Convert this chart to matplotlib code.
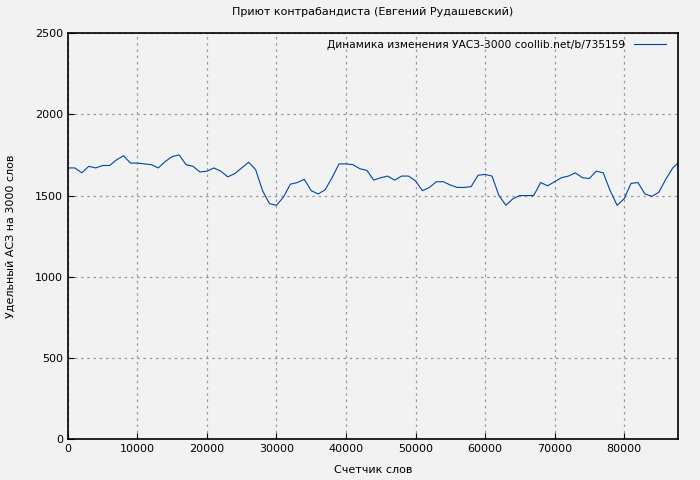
import matplotlib
matplotlib.use("Agg")
import matplotlib.pyplot as plt

words = list(range(0, 89000, 1000))
values = [1670,1670,1640,1680,1670,1685,1685,1720,1745,1700,1700,1695,1690,1670,1710,1740,1750,1690,1680,1645,
          1650,1670,1650,1615,1635,1670,1705,1660,1530,1450,1440,1490,1570,1580,1600,1530,1510,1535,1610,1695,
          1695,1690,1665,1655,1595,1610,1620,1595,1620,1620,1590,1530,1550,1585,1585,1565,1550,1550,1555,1625,
          1630,1620,1500,1440,1480,1500,1500,1500,1580,1560,1585,1610,1620,1640,1610,1605,1650,1640,1530,1440,
          1480,1575,1580,1510,1495,1520,1600,1670,1710]

fig = plt.figure(figsize=(7, 4.8), dpi=100, facecolor="#f2f2f2")
ax = fig.add_axes([0.097, 0.085, 0.872, 0.846], facecolor="#f2f2f2")
ax.plot(words, values, color="#0044aa", lw=0.8, label="Динамика изменения УАСЗ-3000 coollib.net/b/735159")
ax.set_xlim(0, 87800)
ax.set_ylim(0, 2500)
ax.set_xticks(range(0, 90000, 10000))
ax.set_yticks(range(0, 2501, 500))
ax.grid(True, color="#999999", ls=(0, (2, 3)), lw=0.9)
ax.tick_params(labelsize=8, direction="in", length=4)
for s in ax.spines.values():
    s.set_linewidth(1.2)
ax.set_title("Приют контрабандиста (Евгений Рудашевский)", fontsize=8, pad=13)
ax.set_xlabel("Счетчик слов", fontsize=8, labelpad=8)
ax.set_ylabel("Удельный АСЗ на 3000 слов", fontsize=8, labelpad=14)
leg = ax.legend(loc="upper right", frameon=False, fontsize=7.7, handlelength=3, markerfirst=False,
                borderaxespad=0.2, bbox_to_anchor=(0.99, 1.0))
fig.savefig("out.png", dpi=100, facecolor=fig.get_facecolor())
